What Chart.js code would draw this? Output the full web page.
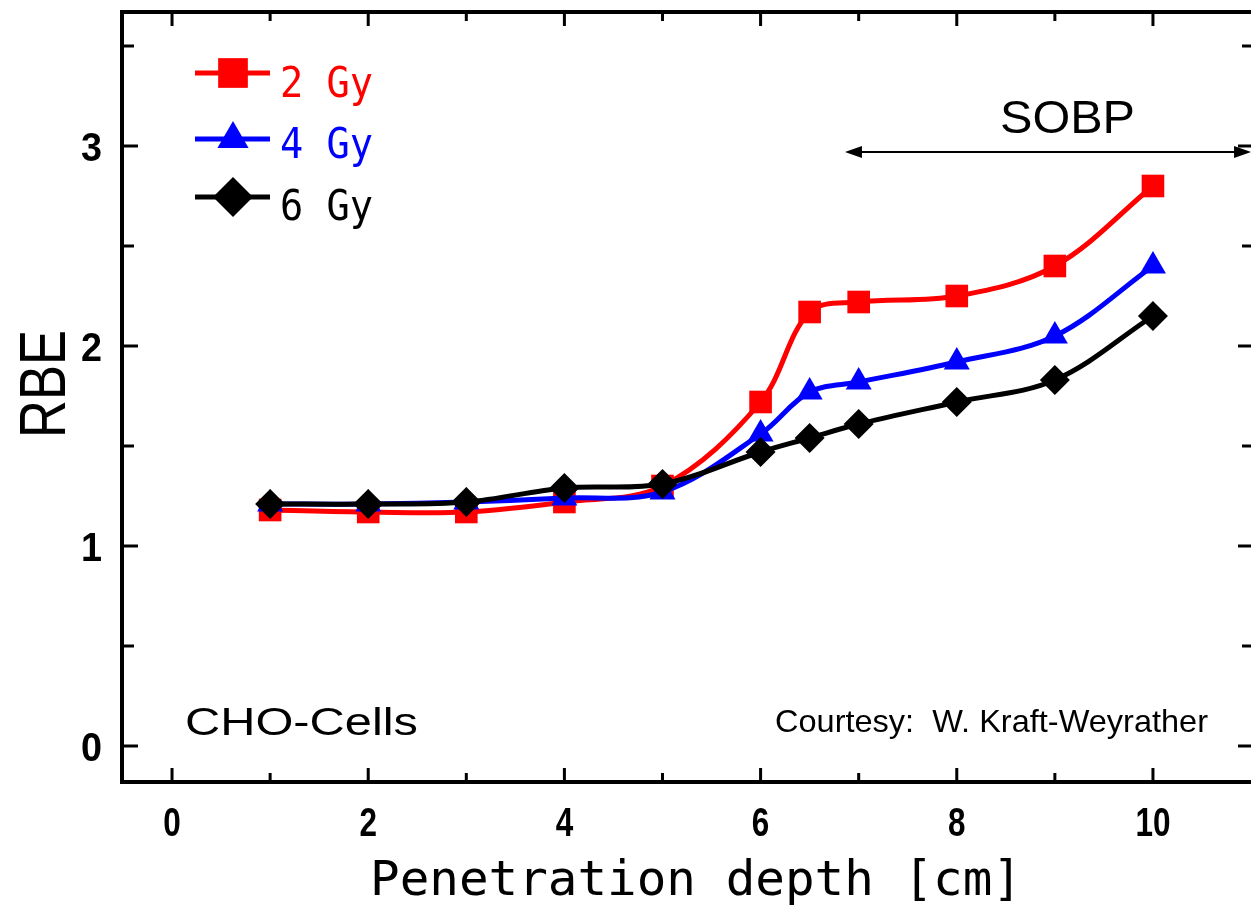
<!DOCTYPE html>
<html>
<head>
<meta charset="utf-8">
<script src="https://cdn.jsdelivr.net/npm/chart.js@4.4.1/dist/chart.umd.min.js"></script>
<style>
  html, body { margin: 0; padding: 0; background: #fff; overflow: hidden; }
</style>
</head>
<body>
<canvas id="canvas" width="1256" height="916"></canvas>
<script>
// values (RBE vs depth, CHO cells)
var depth  = [1, 2, 3, 4, 5, 6, 6.5, 7, 8, 9, 10];
var rbe2Gy = [1.18, 1.17, 1.17, 1.22, 1.30, 1.72, 2.17, 2.22, 2.25, 2.40, 2.80];
var rbe4Gy = [1.21, 1.21, 1.22, 1.24, 1.27, 1.56, 1.77, 1.82, 1.92, 2.05, 2.40];
var rbe6Gy = [1.21, 1.21, 1.22, 1.29, 1.31, 1.47, 1.54, 1.61, 1.72, 1.83, 2.15];
var seriesNames = ['2 Gy', '4 Gy', '6 Gy'];
var xTicks = [0, 2, 4, 6, 8, 10];
var yTicks = [0, 1, 2, 3];

var RED = '#ff0000', BLUE = '#0000ff', BLACK = '#000000';
var tickFont = "bold 40px 'Liberation Sans', Arial, sans-serif";

function pts(ys) {
  return depth.map(function (x, i) { return { x: x, y: ys[i] }; });
}

// stretch/squeeze text horizontally so it spans the given width
function fitText(ctx, text, x, y, width, font, color, align) {
  ctx.save();
  ctx.font = font;
  ctx.fillStyle = color;
  ctx.textAlign = 'left';
  ctx.textBaseline = 'alphabetic';
  var w = ctx.measureText(text).width;
  if (align === 'center') x -= width / 2;
  else if (align === 'right') x -= width;
  ctx.translate(x, y);
  ctx.scale(width / w, 1);
  ctx.fillText(text, 0, 0);
  ctx.restore();
}

function marker(ctx, style, x, y, r) {
  ctx.beginPath();
  if (style === 'rect') {
    var s = r * Math.SQRT1_2;
    ctx.rect(x - s, y - s, 2 * s, 2 * s);
  } else if (style === 'triangle') {
    ctx.moveTo(x, y - r);
    ctx.lineTo(x + r * Math.sin(2 * Math.PI / 3), y + r * 0.5);
    ctx.lineTo(x - r * Math.sin(2 * Math.PI / 3), y + r * 0.5);
    ctx.closePath();
  } else {
    ctx.moveTo(x - r, y);
    ctx.lineTo(x, y - r);
    ctx.lineTo(x + r, y);
    ctx.lineTo(x, y + r);
    ctx.closePath();
  }
  ctx.fill();
}

function noPad(s) {
  s.paddingTop = 0; s.paddingBottom = 0; s.paddingLeft = 0; s.paddingRight = 0;
}

var framePlugin = {
  id: 'frame',
  beforeDatasetsDraw: function (chart) {
    var ctx = chart.ctx, a = chart.chartArea, xs = chart.scales.x, ys = chart.scales.y;
    ctx.save();
    ctx.strokeStyle = '#000';
    ctx.lineWidth = 4;
    ctx.beginPath();
    ctx.moveTo(a.left - 2, a.top);
    ctx.lineTo(a.right + 2, a.top);
    ctx.moveTo(a.right, a.top);
    ctx.lineTo(a.right, a.bottom);
    ctx.stroke();

    // inward tick marks on all four sides
    ctx.lineWidth = 3;
    ctx.beginPath();
    for (var v = 0; v <= 10; v++) {
      var px = xs.getPixelForValue(v);
      var len = v % 2 === 0 ? 14 : 9;
      ctx.moveTo(px, a.bottom);
      ctx.lineTo(px, a.bottom - len);
      ctx.moveTo(px, a.top);
      ctx.lineTo(px, a.top + len);
    }
    for (v = 0; v <= 3.5; v += 0.5) {
      var py = ys.getPixelForValue(v);
      len = v % 1 === 0 ? 16 : 12;
      ctx.moveTo(a.left, py);
      ctx.lineTo(a.left + len, py);
      ctx.moveTo(a.right, py);
      ctx.lineTo(a.right - len, py);
    }
    ctx.stroke();

    // tick labels (narrow bold digits)
    xTicks.forEach(function (t) {
      fitText(ctx, String(t), xs.getPixelForValue(t), a.bottom + 54, String(t).length * 17.5, tickFont, '#000', 'center');
    });
    yTicks.forEach(function (t) {
      fitText(ctx, String(t), a.left - 20, ys.getPixelForValue(t) + 15, 21, tickFont, '#000', 'right');
    });
    ctx.restore();
  },
  afterDatasetsDraw: function (chart) {
    var ctx = chart.ctx, xs = chart.scales.x, ys = chart.scales.y;
    ctx.save();

    // legend
    var legend = [
      { name: seriesNames[0], color: RED, style: 'rect', r: 21, y: 73, base: 97 },
      { name: seriesNames[1], color: BLUE, style: 'triangle', r: 18, y: 139, base: 158 },
      { name: seriesNames[2], color: BLACK, style: 'rectRot', r: 20, y: 197, base: 220 }
    ];
    legend.forEach(function (it) {
      ctx.strokeStyle = it.color;
      ctx.fillStyle = it.color;
      ctx.lineWidth = 5;
      ctx.beginPath();
      ctx.moveTo(195, it.y);
      ctx.lineTo(270, it.y);
      ctx.stroke();
      marker(ctx, it.style, 233, it.y, it.r);
      fitText(ctx, it.name, 280, it.base, 93, "42px 'DejaVu Sans Mono', monospace", it.color);
    });

    // SOBP arrow
    var ax1 = xs.getPixelForValue(6.86), ax2 = xs.getPixelForValue(11.0), ay = ys.getPixelForValue(2.97);
    ctx.strokeStyle = '#000';
    ctx.fillStyle = '#000';
    ctx.lineWidth = 2;
    ctx.beginPath();
    ctx.moveTo(ax1 + 4, ay);
    ctx.lineTo(ax2 - 4, ay);
    ctx.stroke();
    ctx.beginPath();
    ctx.moveTo(ax1, ay); ctx.lineTo(ax1 + 17, ay - 6); ctx.lineTo(ax1 + 17, ay + 6); ctx.closePath();
    ctx.moveTo(ax2, ay); ctx.lineTo(ax2 - 17, ay - 6); ctx.lineTo(ax2 - 17, ay + 6); ctx.closePath();
    ctx.fill();

    fitText(ctx, 'SOBP', 1000, 133, 135, "46px 'Liberation Sans', Arial, sans-serif", '#000');
    fitText(ctx, 'CHO-Cells', 185, 735, 233, "39px 'Liberation Sans', Arial, sans-serif", '#000');
    fitText(ctx, 'Courtesy:  W. Kraft-Weyrather', 775, 732, 433, "32px 'Liberation Sans', Arial, sans-serif", '#000');

    // axis titles
    fitText(ctx, 'Penetration depth [cm]', 370, 895, 652, "48px 'DejaVu Sans Mono', monospace", '#000');
    ctx.save();
    ctx.translate(65, 438);
    ctx.rotate(-Math.PI / 2);
    fitText(ctx, 'RBE', 0, 0, 108, "65px 'Liberation Sans', Arial, sans-serif", '#000');
    ctx.restore();

    ctx.restore();
  }
};

var ctx = document.getElementById('canvas').getContext('2d');
window.myChart = new Chart(ctx, {
  type: 'line',
  data: {
    datasets: [{
      label: seriesNames[0],
      data: pts(rbe2Gy),
      borderColor: RED,
      backgroundColor: RED,
      pointStyle: 'rect',
      pointRadius: 16,
      order: 2
    }, {
      label: seriesNames[1],
      data: pts(rbe4Gy),
      borderColor: BLUE,
      backgroundColor: BLUE,
      pointStyle: 'triangle',
      pointRadius: 15,
      order: 1
    }, {
      label: seriesNames[2],
      data: pts(rbe6Gy),
      borderColor: BLACK,
      backgroundColor: BLACK,
      pointStyle: 'rectRot',
      pointRadius: 15,
      order: 0
    }]
  },
  options: {
    responsive: false,
    animation: false,
    devicePixelRatio: 1,
    layout: { autoPadding: false, padding: { top: 12, right: 2, left: 0, bottom: 0 } },
    elements: {
      line: { borderWidth: 5, tension: 0.35, fill: false },
      point: { borderWidth: 0, hoverRadius: 15 }
    },
    plugins: {
      legend: { display: false },
      tooltip: { enabled: false },
      title: { display: false }
    },
    scales: {
      x: {
        type: 'linear',
        min: -0.51,
        max: 11.03,
        grid: { display: false, drawTicks: false },
        border: { display: true, color: '#000', width: 4 },
        afterBuildTicks: function (s) { s.ticks = xTicks.map(function (v) { return { value: v }; }); },
        afterFit: function (s) { s.height = 134; noPad(s); },
        ticks: { display: false }
      },
      y: {
        type: 'linear',
        min: -0.18,
        max: 3.67,
        grid: { display: false, drawTicks: false },
        border: { display: true, color: '#000', width: 4 },
        afterBuildTicks: function (s) { s.ticks = yTicks.map(function (v) { return { value: v }; }); },
        afterFit: function (s) { s.width = 122; noPad(s); },
        ticks: { display: false }
      }
    }
  },
  plugins: [framePlugin]
});
</script>
</body>
</html>
